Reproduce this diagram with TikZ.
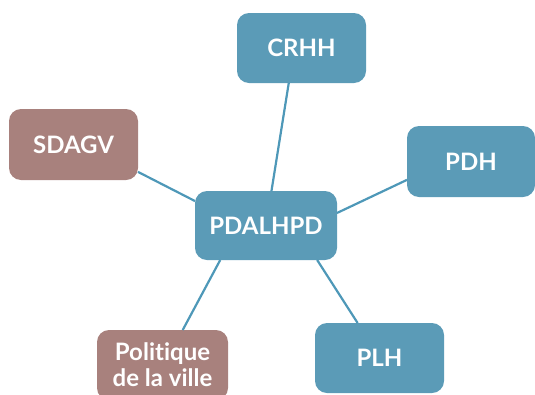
\documentclass[tikz,border=0pt]{standalone}
\usepackage{fontspec}
\setmainfont{Lato}[Ligatures={NoCommon,NoRare}]
\usetikzlibrary{positioning}

\definecolor{boxblue}{HTML}{5B9BB7}
\definecolor{boxrose}{HTML}{A8817D}
\definecolor{linkblue}{HTML}{4E98B8}

\tikzset{
  box/.style={rectangle, rounded corners=12pt, minimum width=129pt, minimum height=70pt,
    inner sep=2pt, outer sep=0pt, text=white, align=center,
    font=\fontsize{24}{26}\selectfont\bfseries},
  bluebox/.style={box, fill=boxblue},
  rosebox/.style={box, fill=boxrose},
  link/.style={draw=linkblue, line width=2.2pt}
}

\begin{document}
\begin{tikzpicture}[x=1pt,y=1pt]
  \useasboundingbox (0,0) rectangle (535,-394);

  % Nodes
  \node[bluebox, minimum width=142pt, minimum height=69pt] (pdalhpd) at (266,-225.5) {PDALHPD};

  \node[bluebox, above = 108pt of pdalhpd, xshift=35.5pt] (crhh) {CRHH};
  \node[rosebox, left = 57pt of pdalhpd, yshift=81pt, minimum height=71pt] (sdagv) {SDAGV};
  \node[bluebox, right = 70pt of pdalhpd, yshift=64pt, minimum width=128pt, minimum height=71pt] (pdh) {PDH};

  \node[bluebox, below = 63pt of pdalhpd, xshift=113.5pt] (plh) {PLH};
  \node[rosebox, below = 70pt of pdalhpd, xshift=-103.5pt, minimum width=131pt] (politique) {Politique\\de la ville};

  % Edges
  \draw[link] (pdalhpd.81.8) -- (crhh.250.3);
  \draw[link] (pdalhpd.161) -- (sdagv.337.7);
  \draw[link] (pdalhpd.10.8) -- (pdh.196.1);

  \draw[link] (pdalhpd.326) -- (plh.122.7);
  \draw[link] (pdalhpd.217.7) -- (politique.60.9);
\end{tikzpicture}
\end{document}
